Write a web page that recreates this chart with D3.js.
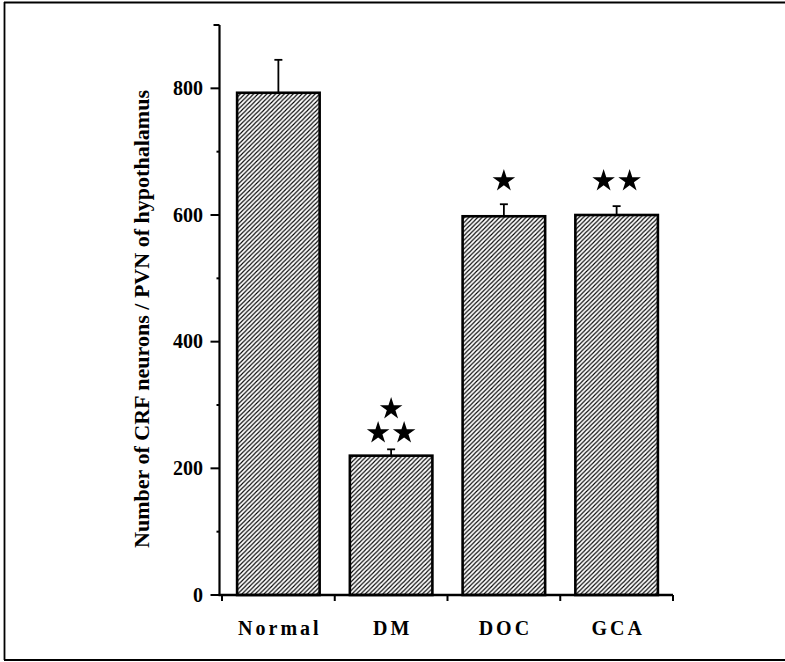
<!DOCTYPE html>
<html>
<head>
<meta charset="utf-8">
<script src="https://cdn.jsdelivr.net/npm/d3@7"></script>
<style>
  html, body { margin: 0; padding: 0; background: #fff; }
  svg { display: block; }
</style>
</head>
<body>
<script>
// ---- data ----
const categories = ["Normal", "DM", "DOC", "GCA"];
const means = [793, 220, 598, 600];
const errors = [52, 10, 19, 14];
const yTicks = [0, 200, 400, 600, 800];
const yMinorTicks = [100, 300, 500, 700, 900];
const yLabel = "Number of CRF neurons / PVN of hypothalamus";
// significance stars: category, level (data units), number of stars
const starCats = ["DM", "DM", "DOC", "GCA"];
const starLevels = [256, 294, 654, 654];
const starCounts = [2, 1, 1, 2];

// ---- layout ----
const W = 785, H = 662;
const FONT = "'Times New Roman', 'Liberation Serif', Times, serif";
const svg = d3.select("body").append("svg").attr("width", W).attr("height", H)
  .attr("font-family", FONT);

// frame
svg.append("line").attr("x1", 4).attr("x2", W).attr("y1", 2.5).attr("y2", 2.5)
  .attr("stroke", "#000").attr("stroke-width", 1.8);
svg.append("line").attr("x1", 4).attr("x2", W).attr("y1", 660).attr("y2", 660)
  .attr("stroke", "#000").attr("stroke-width", 1.8);
svg.append("line").attr("x1", 4.5).attr("x2", 4.5).attr("y1", 2).attr("y2", 660)
  .attr("stroke", "#000").attr("stroke-width", 1.8);

const x = d3.scaleBand().domain(categories).range([222, 673]).paddingInner(0.268).paddingOuter(0.134);
const y = d3.scaleLinear().domain([0, 900]).range([595, 25]);
const axisX = 219.5;

// hatch pattern
const defs = svg.append("defs");
const pat = defs.append("pattern").attr("id", "hatch").attr("patternUnits", "userSpaceOnUse")
  .attr("width", 4.4).attr("height", 4.4);
pat.append("rect").attr("width", 4.4).attr("height", 4.4).attr("fill", "#fff");
pat.append("path").attr("d", "M-1.1,1.1 l2.2,-2.2 M0,4.4 l4.4,-4.4 M3.3,5.5 l2.2,-2.2")
  .attr("stroke", "#000").attr("stroke-width", 1.1);

const data = categories.map((c, i) => ({ c, v: means[i], e: errors[i] }));

// error bars (upward only)
const eb = svg.append("g").attr("stroke", "#000");
data.forEach(d => {
  const cx = x(d.c) + x.bandwidth() / 2;
  eb.append("line").attr("x1", cx).attr("x2", cx).attr("y1", y(d.v)).attr("y2", y(d.v + d.e)).attr("stroke-width", 1.8);
  eb.append("line").attr("x1", cx - 4).attr("x2", cx + 4).attr("y1", y(d.v + d.e)).attr("y2", y(d.v + d.e)).attr("stroke-width", 1.8);
});

// bars
svg.append("g").selectAll("rect").data(data).join("rect")
  .attr("x", d => x(d.c))
  .attr("y", d => y(d.v))
  .attr("width", x.bandwidth())
  .attr("height", d => y(0) - y(d.v))
  .attr("fill", "url(#hatch)")
  .attr("stroke", "#000")
  .attr("stroke-width", 2.6);

// y axis
const ya = svg.append("g");
ya.append("line").attr("x1", axisX).attr("x2", axisX).attr("y1", y(900)).attr("y2", y(0))
  .attr("stroke", "#000").attr("stroke-width", 2.2);
yTicks.forEach(t => {
  ya.append("line").attr("x1", axisX - 9).attr("x2", axisX).attr("y1", y(t)).attr("y2", y(t))
    .attr("stroke", "#000").attr("stroke-width", 2);
  ya.append("text").attr("x", 203).attr("y", y(t)).attr("dy", "0.34em")
    .attr("text-anchor", "end").attr("font-size", 20).attr("font-weight", "bold")
    .text(t);
});
yMinorTicks.forEach(t => {
  ya.append("line").attr("x1", axisX - (t === 900 ? 6 : 3)).attr("x2", axisX).attr("y1", y(t)).attr("y2", y(t))
    .attr("stroke", "#000").attr("stroke-width", 2);
});

// y label
svg.append("text")
  .attr("transform", `translate(149,${(y(0) + y(900)) / 2 + 9}) rotate(-90)`)
  .attr("text-anchor", "middle")
  .attr("font-size", 20)
  .attr("font-weight", "bold")
  .attr("textLength", 458)
  .attr("lengthAdjust", "spacingAndGlyphs")
  .text(yLabel);

// x axis
const xa = svg.append("g");
xa.append("line").attr("x1", axisX - 1).attr("x2", 673).attr("y1", y(0)).attr("y2", y(0))
  .attr("stroke", "#000").attr("stroke-width", 2.4);
const bounds = categories.map(c => x(c) - x.step() * x.paddingInner() / 2 + x.step()).concat([x.range()[0]]);
bounds.forEach(b => {
  xa.append("line").attr("x1", b).attr("x2", b).attr("y1", y(0)).attr("y2", y(0) + 6)
    .attr("stroke", "#000").attr("stroke-width", 2);
});
categories.forEach(c => {
  xa.append("text").attr("x", x(c) + x.bandwidth() / 2 + 1.5).attr("y", 635)
    .attr("text-anchor", "middle").attr("font-size", 20).attr("font-weight", "bold")
    .attr("letter-spacing", 3)
    .text(c);
});

// stars
const star = d3.symbol().type(d3.symbolStar).size(158);
starCats.forEach((c, i) => {
  const n = starCounts[i];
  const cx = x(c) + x.bandwidth() / 2;
  const gap = 26;
  for (let k = 0; k < n; k++) {
    const sx = cx + (k - (n - 1) / 2) * gap;
    svg.append("path").attr("d", star())
      .attr("transform", `translate(${sx},${y(starLevels[i])})`)
      .attr("fill", "#000");
  }
});
</script>
</body>
</html>
